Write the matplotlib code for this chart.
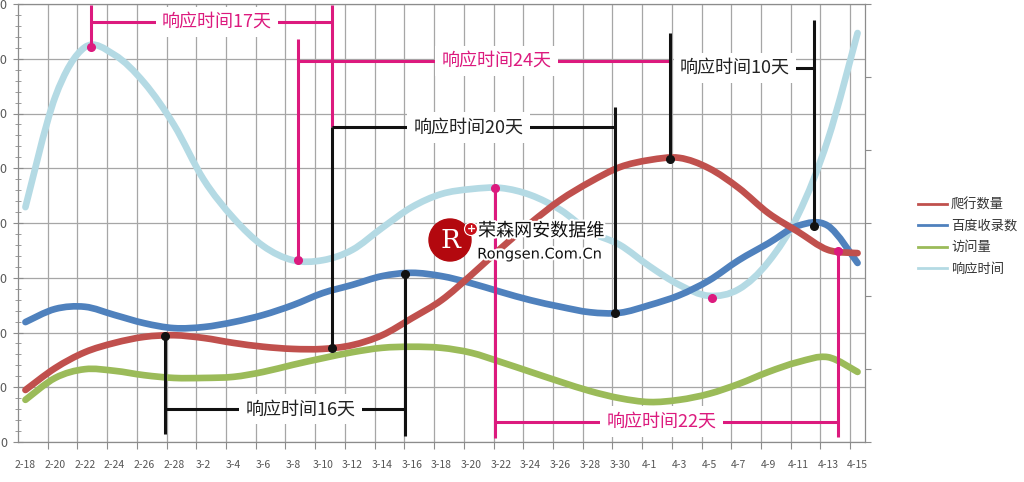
import numpy as np
import matplotlib.pyplot as plt
import matplotlib.patheffects as pe
from matplotlib.patches import Ellipse, PathPatch
from matplotlib.path import Path
from matplotlib.lines import Line2D

plt.rcParams['font.family'] = ['Noto Sans CJK SC', 'DejaVu Sans']

# 日期标签（每两天一个）
dates = ['2-18', '2-20', '2-22', '2-24', '2-26', '2-28', '3-2', '3-4', '3-6', '3-8',
         '3-10', '3-12', '3-14', '3-16', '3-18', '3-20', '3-22', '3-24', '3-26', '3-28',
         '3-30', '4-1', '4-3', '4-5', '4-7', '4-9', '4-11', '4-13', '4-15']
days = np.arange(0, 57, 2)  # 按天计的位置

crawl = [95, 135, 164, 181, 192, 195, 190, 181, 174, 170,
         170, 177, 195, 226, 259, 305, 354, 400, 442, 475,
         502, 515, 519, 500, 464, 418, 384, 351, 345]          # 爬行数量
indexed = [219, 243, 247, 232, 217, 208, 210, 219, 232, 250,
           272, 287, 303, 309, 303, 290, 274, 259, 247, 237,
           236, 250, 268, 295, 332, 363, 395, 395, 327]        # 百度收录数
visits = [77, 117, 133, 130, 122, 117, 117, 119, 128, 141,
          153, 164, 172, 174, 172, 163, 146, 128, 110, 93,
          80, 73, 77, 88, 106, 128, 146, 155, 128]             # 访问量
resp = [429, 630, 721, 707, 656, 579, 479, 409, 358, 332,
        332, 351, 391, 429, 453, 462, 464, 451, 424, 384,
        360, 321, 287, 267, 279, 329, 415, 552, 747]           # 响应时间

names = ['爬行数量', '百度收录数', '访问量', '响应时间']
colors = ['#C0504D', '#4F81BD', '#9BBB59', '#B4DAE4']
PINK = '#DC1A7E'
BLACK = '#111111'

fig = plt.figure(figsize=(10.24, 4.82), dpi=100)
ax = fig.add_axes([18/1024, 1-442/482, (865-18)/1024, (442-4)/482])

ax.set_xlim(-0.5, 56.5)
ax.set_ylim(0, 800)

# 网格：竖线在每两天的分界处
ax.set_xticks(np.arange(1.5, 56, 2))
ax.set_xticks(days, labels=dates, minor=True)
ax.tick_params(axis='x', which='major', labelbottom=False, length=5, color='#8C8C8C', width=0.8)
ax.tick_params(axis='x', which='minor', length=0, pad=13, labelsize=7.5, labelcolor='#555555')
ax.set_yticks(np.arange(0, 801, 100))
ax.set_yticks(np.arange(0, 801, 20), minor=True)
ax.set_yticklabels([str(v) for v in np.arange(0, 801, 100)])
ax.tick_params(axis='y', which='major', direction='inout', length=7, color='#8C8C8C',
               labelsize=9, labelcolor='#595959', pad=4)
ax.tick_params(axis='y', which='minor', direction='inout', length=5, color='#8C8C8C')
ax.grid(True, which='major', color='#A6A6A6', lw=0.9)
ax.set_axisbelow(True)
for s in ax.spines.values():
    s.set_color('#8C8C8C')
    s.set_linewidth(0.9)

# 右侧次坐标轴（只有刻度）
ax2 = ax.twinx()
ax2.set_ylim(0, 6)
ax2.set_yticks(range(7))
ax2.tick_params(axis='y', length=4, color='#8C8C8C', labelright=False)
for s in ax2.spines.values():
    s.set_visible(False)


def smooth_path(x, y):
    # 平滑折线（类似 Excel 的平滑线），曲线穿过每个数据点
    p = np.column_stack([x, y]).astype(float)
    pp = np.vstack([p[0], p, p[-1]])
    verts = [p[0]]
    codes = [Path.MOVETO]
    for i in range(len(p) - 1):
        p0, p1, p2, p3 = pp[i], pp[i + 1], pp[i + 2], pp[i + 3]
        verts += [p1 + (p2 - p0) / 6, p2 - (p3 - p1) / 6, p2]
        codes += [Path.CURVE4] * 3
    return Path(verts, codes)


series = [crawl, indexed, visits, resp]
for i in [3, 2, 1, 0]:
    ax.add_patch(PathPatch(smooth_path(days, series[i]), fill=False, ec=colors[i], lw=4.8,
                           capstyle='round', joinstyle='round', zorder=3 + (3 - i) * 0.1))


def on(s, d):
    return np.interp(d, days, s)


def vline(x, y0, y1, c):
    ax.plot([x, x], [y0, y1], color=c, lw=2.2, zorder=5, solid_capstyle='butt')


def dot(x, y, c):
    ax.plot([x], [y], 'o', color=c, ms=5.5, zorder=6)


def bar(x0, x1, y, c, txt, tx):
    ax.plot([x0, x1], [y, y], color=c, lw=2.2, zorder=5, solid_capstyle='butt')
    ax.text(tx, y, txt, color=c if c == PINK else '#222222', fontsize=13, ha='center',
            va='center', zorder=7,
            bbox=dict(boxstyle='square,pad=0.35', fc='white', ec='none'))


# 响应时间17天
x0, x1 = 4.42, 20.63
vline(x0, on(resp, x0) + 3, 798, PINK)
dot(x0, on(resp, x0) + 3, PINK)
vline(x1, 798, 575, PINK)
bar(x0, x1, 767, PINK, '响应时间17天', 12.9)

# 响应时间24天
x0, x1 = 18.34, 43.38
vline(x0, on(resp, x0), 736, PINK)
dot(x0, on(resp, x0), PINK)
bar(x0, x1, 696, PINK, '响应时间24天', 31.7)

# 响应时间20天
x0, x1 = 20.63, 39.67
vline(x0, on(crawl, x0), 575, BLACK)
dot(x0, on(crawl, x0), BLACK)
vline(x1, 612, on(indexed, x1), BLACK)
dot(x1, on(indexed, x1), BLACK)
bar(x0, x1, 575, BLACK, '响应时间20天', 29.8)

# 响应时间10天
x0, x1 = 43.38, 53.07
vline(x0, 747, on(crawl, x0), BLACK)
dot(x0, on(crawl, x0), BLACK)
vline(x1, 771, on(indexed, x1), BLACK)
dot(x1, on(indexed, x1), BLACK)
bar(x0 + 0.3, x1, 683, BLACK, '响应时间10天', 47.75)

# 响应时间16天
x0, x1 = 9.4, 25.54
vline(x0, on(crawl, x0), 15, BLACK)
dot(x0, on(crawl, x0), BLACK)
vline(x1, on(indexed, x1), 11, BLACK)
dot(x1, on(indexed, x1), BLACK)
bar(x0, x1, 60, BLACK, '响应时间16天', 18.5)

# 响应时间22天
x0, x1 = 31.6, 54.7
vline(x0, on(resp, x0), 7, PINK)
dot(x0, on(resp, x0), PINK)
vline(x1, on(crawl, x1), 9, PINK)
dot(x1, on(crawl, x1), PINK)
bar(x0, x1, 37, PINK, '响应时间22天', 42.8)

dot(46.2, on(resp, 46.2) - 5, PINK)

# 图例
handles = [Line2D([], [], color=colors[i], lw=2) for i in range(4)]
leg = fig.legend(handles, names, loc='center left', bbox_to_anchor=(918/1024, 1-237/482),
                 frameon=False, fontsize=9.5, handlelength=2.2, handletextpad=0.3,
                 labelspacing=0.65, borderpad=0, borderaxespad=0)
for t in leg.get_texts():
    t.set_color('#333333')

# 水印
fig.add_artist(Ellipse((450/1024, 1-240/482), 42/1024, 42/482, color='#B3080E', zorder=10))
fig.text(450/1024, 1-240/482, 'R', color='white', fontsize=19, family='DejaVu Serif',
         ha='center', va='center', zorder=11)
fig.add_artist(Ellipse((471/1024, 1-229/482), 13/1024, 13/482, color='#C8101A', zorder=11,
                       ec='white', lw=0.8))
fig.text(471/1024, 1-229/482, '+', color='white', fontsize=8, weight='bold',
         family='DejaVu Sans', ha='center', va='center', zorder=12)
glow = [pe.withStroke(linewidth=3, foreground='white')]
fig.text(541/1024, 1-231/482, '荣森网安数据维', color='#111111', fontsize=13,
         ha='center', va='center', zorder=11, path_effects=glow)
fig.text(540/1024, 1-254/482, 'Rongsen.Com.Cn', color='#111111', fontsize=10.5,
         family='DejaVu Sans', ha='center', va='center', zorder=11, path_effects=glow)

fig.savefig('out.png', dpi=100)
